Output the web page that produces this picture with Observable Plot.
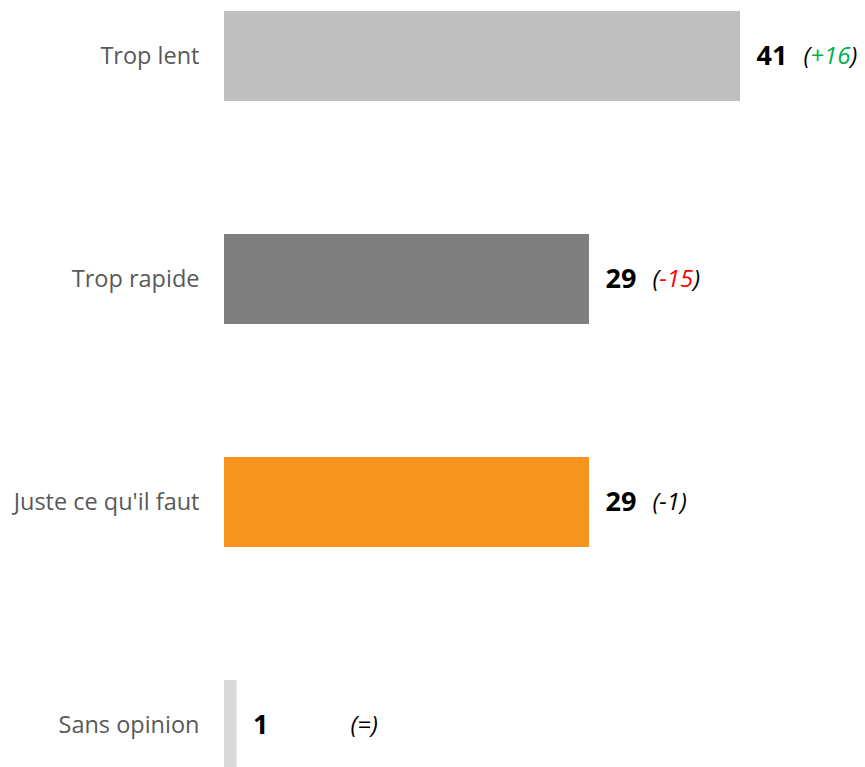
<!DOCTYPE html>
<html>
<head>
<meta charset="utf-8">
<script src="https://cdn.jsdelivr.net/npm/d3@7"></script>
<script src="https://cdn.jsdelivr.net/npm/@observablehq/plot@0.6"></script>
<style>
  html, body { margin: 0; padding: 0; background: #fff; }
  svg { display: block; }
</style>
</head>
<body>
<div id="chart"></div>
<script>
const categories = ["Trop lent", "Trop rapide", "Juste ce qu'il faut", "Sans opinion"];
const values = [41, 29, 29, 1];
const deltas = ["+16", "-15", "-1", "="];
const deltaColors = ["#00B050", "#FF0000", "#000000", "#000000"];
const barColors = ["#BFBFBF", "#7F7F7F", "#F7941D", "#D9D9D9"];

const data = categories.map((c, i) => ({
  cat: c, value: values[i], delta: deltas[i], dcolor: deltaColors[i], color: barColors[i]
}));

const font = "'Open Sans', sans-serif";

const chart = Plot.plot({
  width: 865,
  height: 767,
  marginLeft: 224,
  marginRight: 125,
  marginTop: 11,
  marginBottom: 0,
  style: { fontFamily: font, background: "#fff" },
  x: { domain: [0, 41], axis: null },
  y: { domain: categories, range: [11, 770], paddingInner: 0.5964, paddingOuter: 0, round: false, label: null },
  marks: [
    Plot.barX(data, { y: "cat", x: "value", fill: d => d.color }),
    Plot.axisY({ tickSize: 0, tickPadding: 25, fontSize: 23.5, color: "#595959", label: null, fill: "#595959" }),
    Plot.text(data, { y: "cat", x: "value", text: d => String(d.value), textAnchor: "start", dx: 16, fontSize: 27, fontWeight: "bold", fill: "#000" }),
    Plot.text(data, { y: "cat", x: d => Math.max(d.value, 5), text: d => "(" + d.delta + ")", textAnchor: "start", dx: 63, fontSize: 24, fontStyle: "italic", fill: "#000", className: "delta" })
  ]
});

// colour the number inside the parentheses
d3.select(chart).selectAll("g.delta text").each(function(_, i) {
  const d = data[i];
  const t = d3.select(this);
  t.text(null);
  t.append("tspan").text("(");
  t.append("tspan").attr("fill", d.dcolor).text(d.delta);
  t.append("tspan").text(")");
});

document.getElementById("chart").appendChild(chart);
</script>
</body>
</html>
